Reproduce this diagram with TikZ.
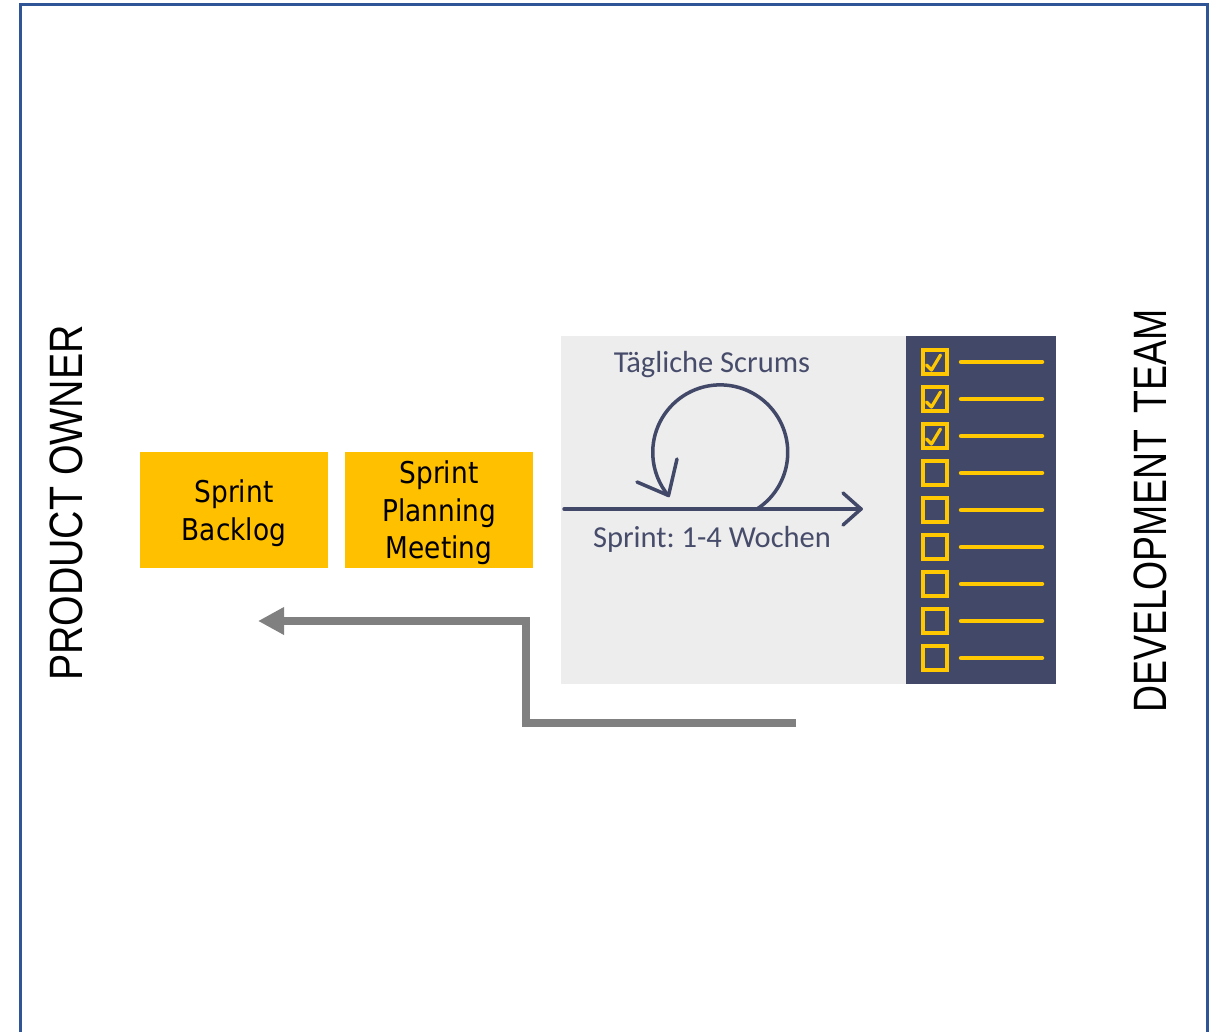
\documentclass[tikz,border=0pt]{standalone}
\usepackage{fontspec}
\setmainfont{DejaVu Sans}
\newfontfamily\carlito{Carlito}
\newfontfamily\libsans{Liberation Sans}
\usetikzlibrary{arrows.meta,calc}
\frenchspacing
\definecolor{frameblue}{HTML}{2F5597}
\definecolor{boxyellow}{HTML}{FFC000}
\definecolor{chkyellow}{HTML}{FFC800}
\definecolor{navy}{HTML}{414868}
\definecolor{navytext}{HTML}{474C6B}
\definecolor{panelgray}{HTML}{EDEDED}
\definecolor{arrowgray}{HTML}{808080}
\newcommand{\nrw}[1]{\scalebox{0.88}[1]{#1}}
\tikzset{
  ybox/.style={fill=boxyellow, minimum width=188pt, minimum height=116pt, inner sep=0pt},
  ytext/.style={inner sep=0pt, align=center, font=\fontsize{30}{37.5}\selectfont, text=black},
  sidelabel/.style={rotate=90, inner sep=0pt, font=\libsans\fontsize{46.8}{50}\selectfont},
  panellabel/.style={inner sep=0pt, text=navytext, font=\carlito\fontsize{30.5}{34}\selectfont},
  navyline/.style={draw=navy, line width=3.5pt, line cap=round, line join=round},
  chkbox/.style={draw=chkyellow, line width=4pt, minimum size=24pt, inner sep=0pt},
  chkline/.style={draw=chkyellow, line width=4.5pt, line cap=round},
  chkmark/.style={draw=chkyellow, line width=3.2pt, line cap=round, line join=round},
  backarrow/.style={draw=arrowgray, line width=8pt, -{Triangle[length=26pt,width=26pt]}}
}
\begin{document}
\begin{tikzpicture}[x=1pt,y=-1pt]
\useasboundingbox (0,0) rectangle (1221,1032);
% frame
\draw[frameblue, line width=3pt] (20.5,1034) -- (20.5,4.5) -- (1207.5,4.5) -- (1207.5,1034);
% side labels
\node[sidelabel] (po) at (66,503) {\scalebox{0.84}[1]{PRODUCT OWNER}};
\node[sidelabel] (dt) at (1150,511) {\scalebox{0.80}[1]{DEVELOPMENT\hspace{0.45em}TEAM}};
% yellow boxes
\node[ybox] (backlog) at (234,510) {};
\node[ybox] (planning) at (439,510) {};
\node[ytext] (backlogtext) at (backlog.center) [yshift=-3pt] {\nrw{Sprint}\\\nrw{Backlog}};
\node[ytext] (planningtext) at (planning.center) [yshift=-3pt] {\nrw{Sprint}\\\nrw{Planning}\\\nrw{Meeting}};
% panel
\fill[panelgray] (561,336) rectangle (906,684);
\fill[navy] (906,336) rectangle (1056,684);
\node[panellabel] (daily) at (712,365) {Tägliche Scrums};
\node[panellabel] (sprint) at (712,539) {Sprint: 1-4 Wochen};
% sprint arrow
\coordinate (sa) at (564,509);
\coordinate (sb) at (861,509);
\draw[navyline] (sa) -- (sb);
\draw[navyline] (843,493) -- (sb) -- (843,525);
% loop
\coordinate (lstart) at (757,509);
\draw[navyline] (lstart) arc[start angle=57, end angle=-220, radius=67.5];
\coordinate (ltip) at (668.5,495.5);
\draw[navyline] (677,459) -- (ltip) -- (637,482);
% checklist
\foreach \i in {0,...,8}{
  \node[chkbox] (cb\i) at (934.5,{362+37*\i}) {};
  \draw[chkline] (961,{362+37*\i}) -- (1042,{362+37*\i});
}
\foreach \i in {0,1,2}{
  \draw[chkmark] ($(cb\i.center)+(-8,3)$) -- ($(cb\i.center)+(-3,8)$) -- ($(cb\i.center)+(6,-7)$);
}
% back arrow
\coordinate (ba) at (796,723);
\coordinate (bb) at (526,723);
\coordinate (bc) at (526,621);
\coordinate (bd) at (258,621);
\draw[backarrow] (ba) -- (bb) -- (bc) -- (bd);
\end{tikzpicture}
\end{document}
